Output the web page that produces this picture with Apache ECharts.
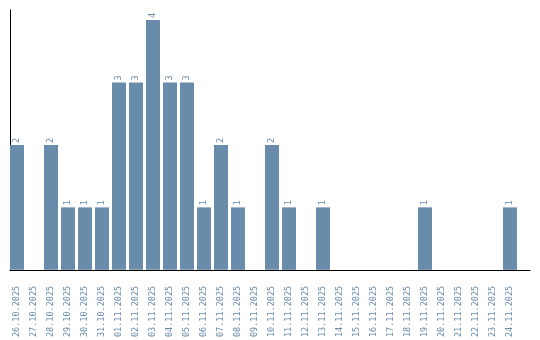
<!DOCTYPE html>
<html><head><meta charset="utf-8">
<script src="https://cdn.jsdelivr.net/npm/echarts@6/dist/echarts.min.js"></script>
<style>html,body{margin:0;padding:0;background:#fff}#c{width:540px;height:340px}</style>
</head><body><div id="c"></div>
<script>
var categories = ["26.10.2025","27.10.2025","28.10.2025","29.10.2025","30.10.2025","31.10.2025","01.11.2025","02.11.2025","03.11.2025","04.11.2025","05.11.2025","06.11.2025","07.11.2025","08.11.2025","09.11.2025","10.11.2025","11.11.2025","12.11.2025","13.11.2025","14.11.2025","15.11.2025","16.11.2025","17.11.2025","18.11.2025","19.11.2025","20.11.2025","21.11.2025","22.11.2025","23.11.2025","24.11.2025"];
var values = [2,0,2,1,1,1,3,3,4,3,3,1,2,1,0,2,1,0,1,0,0,0,0,0,1,0,0,0,0,1];
var color = '#6a8cab';
var font = 'DejaVu Sans Mono';
var chart = echarts.init(document.getElementById('c'), null, {renderer:'canvas'});
chart.setOption({
  animation: false,
  grid: [
    {left: 8.5, right: 21.5, top: 10, bottom: 70},
    {left: 10, right: 10, top: 10, bottom: 70}
  ],
  xAxis: [
    {type: 'category', gridIndex: 0, data: categories,
     axisLine: {show: false}, axisTick: {show: false},
     axisLabel: {rotate: 90, interval: 0, margin: 16, color: color, fontFamily: font, fontSize: 8.5}},
    {type: 'value', gridIndex: 1, min: 0, max: 1,
     axisLine: {show: true, onZero: false, lineStyle: {color: '#000', width: 1}},
     axisTick: {show: false}, axisLabel: {show: false}, splitLine: {show: false}}
  ],
  yAxis: [
    {type: 'value', gridIndex: 0, min: 0, max: 4.16,
     axisLine: {show: false}, axisTick: {show: false}, axisLabel: {show: false}, splitLine: {show: false}},
    {type: 'value', gridIndex: 1, min: 0, max: 1,
     axisLine: {show: true, onZero: false, lineStyle: {color: '#000', width: 1}},
     axisTick: {show: false}, axisLabel: {show: false}, splitLine: {show: false}}
  ],
  series: [{
    type: 'bar', xAxisIndex: 0, yAxisIndex: 0, data: values, barWidth: 14,
    itemStyle: {color: color},
    label: {show: true, position: 'top', rotate: 90, align: 'left', verticalAlign: 'middle',
      distance: 2, color: color, fontFamily: font, fontSize: 8.5,
      formatter: function(p){ return p.value ? String(p.value) : ''; }}
  }]
});
</script></body></html>
